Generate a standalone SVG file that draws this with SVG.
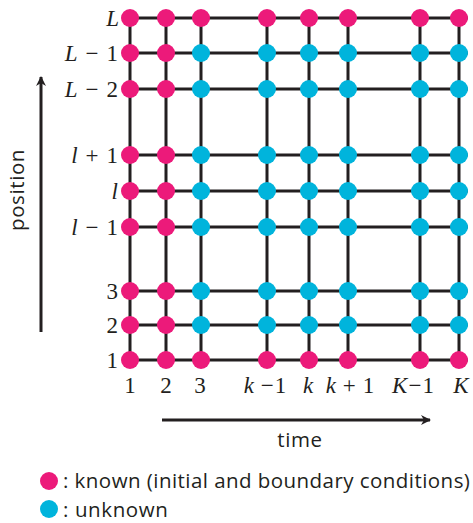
<svg xmlns="http://www.w3.org/2000/svg" width="473" height="523" viewBox="0 0 473 523">
<style>
.grid line{stroke:#231f20;stroke-width:3}
.k{fill:#ec1a7a}
.u{fill:#00b4dc}
.m{font-family:"Liberation Serif","DejaVu Serif",serif;font-size:23px;fill:#231f20}
.m .i{font-style:italic}
.t{font-family:"Open Sans","DejaVu Sans",sans-serif;font-size:20.5px;letter-spacing:0.6px;fill:#231f20}
.ax{stroke:#231f20;stroke-width:3;fill:none}
</style>
<defs>
<marker id="ah" markerWidth="10" markerHeight="10" refX="9" refY="5" orient="auto" markerUnits="userSpaceOnUse" viewBox="0 0 10 10">
<path d="M0,0 L10,5 L0,10 L3,5 Z" fill="#231f20"/>
</marker>
</defs>
<g id="connectors" class="grid">
<line x1="130" y1="18" x2="130" y2="360"/>
<line x1="166" y1="18" x2="166" y2="360"/>
<line x1="201" y1="18" x2="201" y2="360"/>
<line x1="267" y1="18" x2="267" y2="360"/>
<line x1="309" y1="18" x2="309" y2="360"/>
<line x1="348" y1="18" x2="348" y2="360"/>
<line x1="420" y1="18" x2="420" y2="360"/>
<line x1="459" y1="18" x2="459" y2="360"/>
<line x1="130" y1="18" x2="468" y2="18"/>
<line x1="130" y1="53" x2="468" y2="53"/>
<line x1="130" y1="89" x2="468" y2="89"/>
<line x1="130" y1="155" x2="468" y2="155"/>
<line x1="130" y1="191" x2="468" y2="191"/>
<line x1="130" y1="227" x2="468" y2="227"/>
<line x1="130" y1="291" x2="468" y2="291"/>
<line x1="130" y1="325" x2="468" y2="325"/>
<line x1="130" y1="360" x2="468" y2="360"/>
</g>
<g id="nodes">
<g id="row-L">
<circle class="k" cx="130" cy="18" r="9"/><circle class="k" cx="166" cy="18" r="9"/><circle class="k" cx="201" cy="18" r="9"/><circle class="k" cx="267" cy="18" r="9"/><circle class="k" cx="309" cy="18" r="9"/><circle class="k" cx="348" cy="18" r="9"/><circle class="k" cx="420" cy="18" r="9"/><circle class="k" cx="459" cy="18" r="9"/>
</g>
<g id="row-Lm1">
<circle class="k" cx="130" cy="53" r="9"/><circle class="k" cx="166" cy="53" r="9"/><circle class="u" cx="201" cy="53" r="9"/><circle class="u" cx="267" cy="53" r="9"/><circle class="u" cx="309" cy="53" r="9"/><circle class="u" cx="348" cy="53" r="9"/><circle class="u" cx="420" cy="53" r="9"/><circle class="u" cx="459" cy="53" r="9"/>
</g>
<g id="row-Lm2">
<circle class="k" cx="130" cy="89" r="9"/><circle class="k" cx="166" cy="89" r="9"/><circle class="u" cx="201" cy="89" r="9"/><circle class="u" cx="267" cy="89" r="9"/><circle class="u" cx="309" cy="89" r="9"/><circle class="u" cx="348" cy="89" r="9"/><circle class="u" cx="420" cy="89" r="9"/><circle class="u" cx="459" cy="89" r="9"/>
</g>
<g id="row-lp1">
<circle class="k" cx="130" cy="155" r="9"/><circle class="k" cx="166" cy="155" r="9"/><circle class="u" cx="201" cy="155" r="9"/><circle class="u" cx="267" cy="155" r="9"/><circle class="u" cx="309" cy="155" r="9"/><circle class="u" cx="348" cy="155" r="9"/><circle class="u" cx="420" cy="155" r="9"/><circle class="u" cx="459" cy="155" r="9"/>
</g>
<g id="row-l">
<circle class="k" cx="130" cy="191" r="9"/><circle class="k" cx="166" cy="191" r="9"/><circle class="u" cx="201" cy="191" r="9"/><circle class="u" cx="267" cy="191" r="9"/><circle class="u" cx="309" cy="191" r="9"/><circle class="u" cx="348" cy="191" r="9"/><circle class="u" cx="420" cy="191" r="9"/><circle class="u" cx="459" cy="191" r="9"/>
</g>
<g id="row-lm1">
<circle class="k" cx="130" cy="227" r="9"/><circle class="k" cx="166" cy="227" r="9"/><circle class="u" cx="201" cy="227" r="9"/><circle class="u" cx="267" cy="227" r="9"/><circle class="u" cx="309" cy="227" r="9"/><circle class="u" cx="348" cy="227" r="9"/><circle class="u" cx="420" cy="227" r="9"/><circle class="u" cx="459" cy="227" r="9"/>
</g>
<g id="row-3">
<circle class="k" cx="130" cy="291" r="9"/><circle class="k" cx="166" cy="291" r="9"/><circle class="u" cx="201" cy="291" r="9"/><circle class="u" cx="267" cy="291" r="9"/><circle class="u" cx="309" cy="291" r="9"/><circle class="u" cx="348" cy="291" r="9"/><circle class="u" cx="420" cy="291" r="9"/><circle class="u" cx="459" cy="291" r="9"/>
</g>
<g id="row-2">
<circle class="k" cx="130" cy="325" r="9"/><circle class="k" cx="166" cy="325" r="9"/><circle class="u" cx="201" cy="325" r="9"/><circle class="u" cx="267" cy="325" r="9"/><circle class="u" cx="309" cy="325" r="9"/><circle class="u" cx="348" cy="325" r="9"/><circle class="u" cx="420" cy="325" r="9"/><circle class="u" cx="459" cy="325" r="9"/>
</g>
<g id="row-1">
<circle class="k" cx="130" cy="360" r="9"/><circle class="k" cx="166" cy="360" r="9"/><circle class="k" cx="201" cy="360" r="9"/><circle class="k" cx="267" cy="360" r="9"/><circle class="k" cx="309" cy="360" r="9"/><circle class="k" cx="348" cy="360" r="9"/><circle class="k" cx="420" cy="360" r="9"/><circle class="k" cx="459" cy="360" r="9"/>
</g>
</g>
<g id="row-labels" class="m" text-anchor="end">
<text x="119" y="26"><tspan class="i">L</tspan></text>
<text x="118" y="61"><tspan class="i">L</tspan><tspan dx="8">−</tspan><tspan dx="8">1</tspan></text>
<text x="118" y="97"><tspan class="i">L</tspan><tspan dx="8">−</tspan><tspan dx="8">2</tspan></text>
<text x="118" y="163"><tspan class="i">l</tspan><tspan dx="8">+</tspan><tspan dx="8">1</tspan></text>
<text x="118" y="199"><tspan class="i">l</tspan></text>
<text x="118" y="235"><tspan class="i">l</tspan><tspan dx="8">−</tspan><tspan dx="8">1</tspan></text>
<text x="118" y="299">3</text>
<text x="118" y="333">2</text>
<text x="118" y="368">1</text>
</g>
<g id="col-labels" class="m" text-anchor="middle">
<text x="130" y="393">1</text>
<text x="166" y="393">2</text>
<text x="200" y="393">3</text>
<text x="265" y="393"><tspan class="i">k</tspan><tspan dx="7">−</tspan><tspan dx="1">1</tspan></text>
<text x="308" y="393"><tspan class="i">k</tspan></text>
<text x="350" y="393"><tspan class="i">k</tspan><tspan dx="7">+</tspan><tspan dx="7">1</tspan></text>
<text x="413" y="393"><tspan class="i">K</tspan><tspan dx="1">−</tspan><tspan dx="1">1</tspan></text>
<text x="461" y="393"><tspan class="i">K</tspan></text>
</g>
<g id="axes">
<line class="ax" x1="41" y1="332" x2="41" y2="77" marker-end="url(#ah)"/>
<text class="t" transform="translate(24,190) rotate(-90)" text-anchor="middle">position</text>
<line class="ax" x1="162" y1="420" x2="430" y2="420" marker-end="url(#ah)"/>
<text class="t" x="300" y="447" text-anchor="middle">time</text>
</g>
<g id="legend">
<circle class="k" cx="49" cy="481" r="9"/>
<text class="t" x="63" y="488" style="letter-spacing:0.45px">: known (initial and boundary conditions)</text>
<circle class="u" cx="49" cy="509" r="9"/>
<text class="t" x="63" y="517">: unknown</text>
</g>
</svg>
